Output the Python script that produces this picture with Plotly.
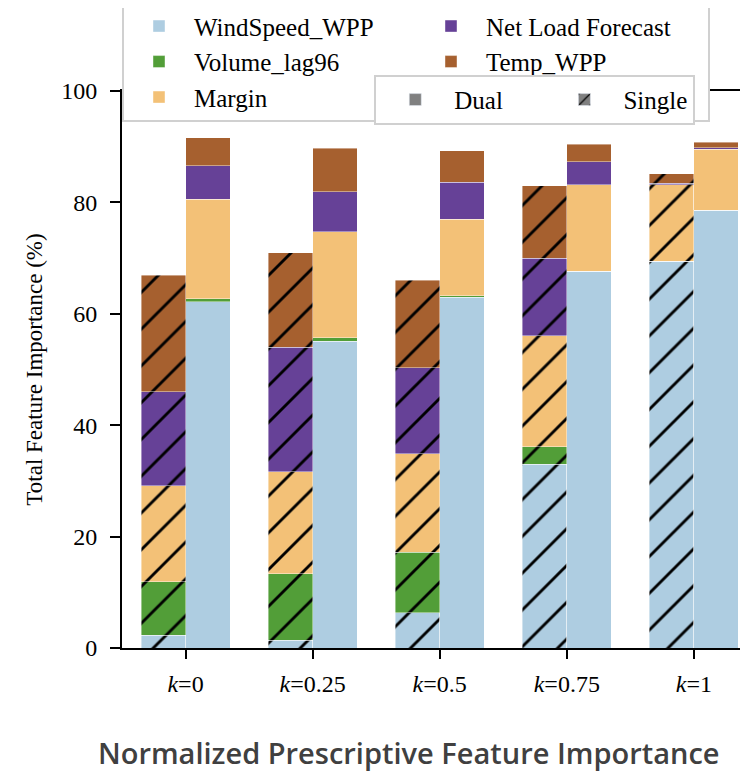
import plotly.graph_objects as go

# k values on the x axis
k_labels = ["0", "0.25", "0.5", "0.75", "1"]

# stacked shares (%) per feature, "Single" model (hatched) and "Dual" model (plain)
wind_single = [2.3, 1.4, 6.3, 33.0, 69.4]
wind_dual = [62.2, 55.1, 63.0, 67.6, 78.6]
volume_single = [9.6, 11.9, 10.9, 3.1, 0.0]
volume_dual = [0.5, 0.6, 0.2, 0.0, 0.0]
margin_single = [17.2, 18.3, 17.7, 20.0, 13.8]
margin_dual = [17.9, 19.0, 13.8, 15.6, 10.9]
netload_single = [16.9, 22.4, 15.4, 13.9, 0.2]
netload_dual = [6.0, 7.2, 6.6, 4.1, 0.3]
temp_single = [20.9, 17.0, 15.7, 13.0, 1.7]
temp_dual = [5.0, 7.8, 5.7, 3.1, 1.0]

features = [
    ("WindSpeed_WPP", "#aecde1", wind_single, wind_dual, 1),
    ("Volume_lag96", "#529e38", volume_single, volume_dual, 3),
    ("Margin", "#f3c177", margin_single, margin_dual, 5),
    ("Net Load Forecast", "#664197", netload_single, netload_dual, 2),
    ("Temp_WPP", "#a6602f", temp_single, temp_dual, 4),
]

bar_w = 0.35
idx = list(range(len(k_labels)))
x_single = [i - bar_w / 2 for i in idx]
x_dual = [i + bar_w / 2 for i in idx]

serif = "Liberation Serif, Times New Roman, serif"
hatch = dict(shape="/", fillmode="overlay", fgcolor="black", fgopacity=1,
             size=26, solidity=0.11)
edge = dict(color="rgba(255,255,255,0.7)", width=0.6)

fig = go.Figure()
for name, color, single, dual, rank in features:
    fig.add_trace(go.Bar(x=x_single, y=single, width=bar_w, name=name,
                         marker=dict(color=color, line=edge, pattern=hatch),
                         showlegend=False))
    fig.add_trace(go.Bar(x=x_dual, y=dual, width=bar_w, name=name,
                         marker=dict(color=color, line=edge),
                         legendrank=rank, legend="legend"))

# model type legend (grey swatches)
fig.add_trace(go.Bar(x=[None], y=[None], name="Dual" + "\u00a0" * 6,
                     marker=dict(color="#808080"),
                     legend="legend2", legendrank=1))
fig.add_trace(go.Bar(x=[None], y=[None], name="Single", legendrank=2,
                     marker=dict(color="#808080",
                                 pattern=dict(shape="/", fillmode="overlay", fgcolor="black",
                                              fgopacity=1, size=14, solidity=0.15)),
                     legend="legend2"))

# the page body adds an 8px offset, so margins are trimmed by 8px
fig.update_layout(
    barmode="stack",
    width=740, height=769,
    margin=dict(l=114, r=0, t=83, b=129, autoexpand=False),
    plot_bgcolor="white", paper_bgcolor="white",
    font=dict(family=serif, color="black"),
    legend=dict(orientation="h", x=0, y=1.161, xanchor="left", yanchor="top",
                entrywidth=217, itemwidth=60, traceorder="normal",
                font=dict(family=serif, size=25),
                bgcolor="white", bordercolor="#d0d0d0", borderwidth=2),
    legend2=dict(orientation="h", x=0.403, y=1.029, xanchor="left", yanchor="top",
                 itemwidth=68, traceorder="normal",
                 font=dict(family=serif, size=25),
                 bgcolor="white", bordercolor="#d0d0d0", borderwidth=2),
    annotations=[dict(text="Normalized Prescriptive Feature Importance",
                      x=0.458, y=-0.187, xref="paper", yref="paper",
                      xanchor="center", yanchor="middle", showarrow=False,
                      font=dict(family="Open Sans", size=29, color="#404040", weight=600))],
)

fig.update_xaxes(range=[-0.5, 4.426], tickvals=idx,
                 ticktext=["<i>k</i>=" + k for k in k_labels],
                 showline=True, linecolor="black", linewidth=2, mirror=True,
                 ticks="outside", ticklen=9, tickwidth=2, tickcolor="black",
                 ticklabelstandoff=4,
                 tickfont=dict(family=serif, size=24), showgrid=False, zeroline=False,
                 automargin=False)
fig.update_yaxes(range=[0, 100], tickvals=[0, 20, 40, 60, 80, 100],
                 showline=True, linecolor="black", linewidth=2,
                 ticks="outside", ticklen=10, tickwidth=2, tickcolor="black",
                 ticklabelstandoff=8,
                 tickfont=dict(family=serif, size=24), showgrid=False, zeroline=False,
                 automargin=False,
                 title=dict(text="Total Feature Importance (%)", standoff=12,
                            font=dict(family=serif, size=23)))

fig.write_html("out.html")
